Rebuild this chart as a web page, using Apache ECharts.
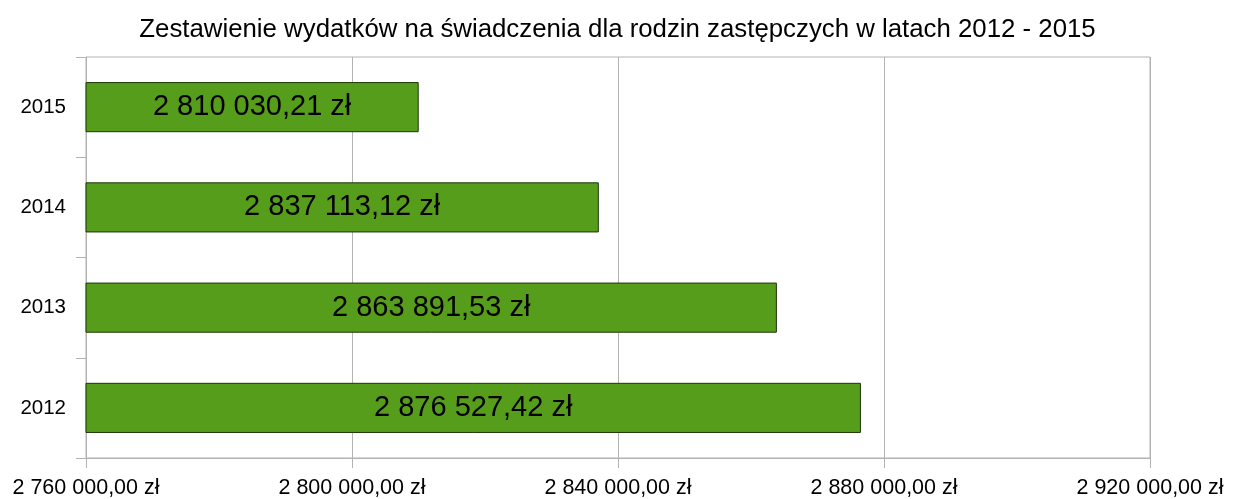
<!DOCTYPE html>
<html>
<head>
<meta charset="utf-8">
<script src="https://cdn.jsdelivr.net/npm/echarts@6/dist/echarts.min.js"></script>
<style>
  html, body { margin: 0; padding: 0; background: #fff; }
  #chart { width: 1235px; height: 499px; }
</style>
</head>
<body>
<div id="chart"></div>
<script>
// dane
var years = ['2012', '2013', '2014', '2015'];
var amounts = [2876527.42, 2863891.53, 2837113.12, 2810030.21];
var axisMin = 2760000, axisMax = 2920000, axisStep = 40000;

// "2 810 030,21 zł"
function fmtZl(v) {
  var parts = v.toFixed(2).split('.');
  return parts[0].replace(/\B(?=(\d{3})+(?!\d))/g, ' ') + ',' + parts[1] + ' zł';
}

var font = '"Liberation Sans", Arial, sans-serif';

var option = {
  animation: false,
  title: {
    text: 'Zestawienie wydatków na świadczenia dla rodzin zastępczych w latach 2012 - 2015',
    left: 'center',
    top: 12,
    textStyle: { fontFamily: font, fontSize: 25.8, fontWeight: 'normal', color: '#000' }
  },
  grid: {
    left: 86, right: 85, top: 57, bottom: 40,
    show: true, borderColor: '#b3b3b3', borderWidth: 1
  },
  xAxis: {
    type: 'value',
    min: axisMin, max: axisMax, interval: axisStep,
    axisLine: { show: true, lineStyle: { color: '#b3b3b3' } },
    axisTick: { show: true, length: 10, lineStyle: { color: '#b3b3b3' } },
    splitLine: { show: true, lineStyle: { color: '#b3b3b3' } },
    axisLabel: {
      fontFamily: font, fontSize: 21.5, color: '#000', margin: 19,
      formatter: function (v) { return fmtZl(v); }
    }
  },
  yAxis: {
    type: 'category',
    data: years,
    axisLine: { show: true, lineStyle: { color: '#b3b3b3' } },
    axisTick: { show: true, length: 10, lineStyle: { color: '#b3b3b3' } },
    splitLine: { show: false },
    axisLabel: { fontFamily: font, fontSize: 20.5, color: '#000', margin: 20 }
  },
  series: [{
    type: 'bar',
    data: amounts,
    barCategoryGap: '50%',
    itemStyle: { color: '#579d1c', borderColor: '#1c3508', borderWidth: 1 },
    label: {
      show: true, position: 'inside',
      fontFamily: font, fontSize: 29, color: '#000',
      formatter: function (p) { return fmtZl(p.value); }
    }
  }]
};

echarts.init(document.getElementById('chart')).setOption(option);
</script>
</body>
</html>
